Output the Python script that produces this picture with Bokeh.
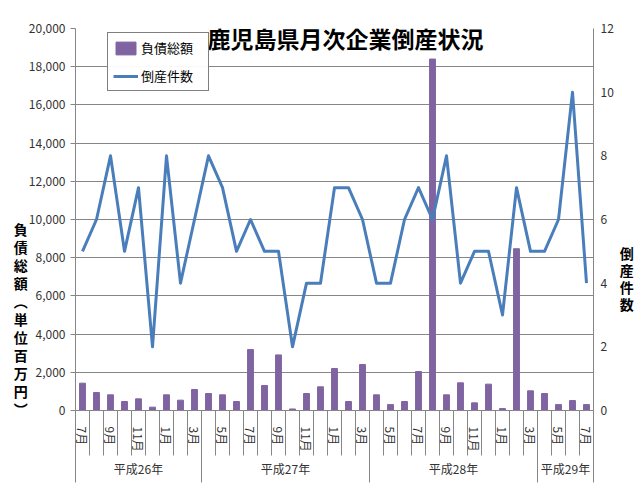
from bokeh.plotting import figure
from bokeh.models import (Range1d, LinearAxis, FixedTicker, NumeralTickFormatter,
                          Grid, Label, ColumnDataSource)
from bokeh.embed import file_html
from bokeh.resources import INLINE

# ---------------- data ----------------
months = ["7月", "8月", "9月", "10月", "11月", "12月", "1月", "2月", "3月",
          "4月", "5月", "6月", "7月", "8月", "9月", "10月", "11月", "12月", "1月", "2月", "3月",
          "4月", "5月", "6月", "7月", "8月", "9月", "10月", "11月", "12月", "1月", "2月", "3月",
          "4月", "5月", "6月", "7月"]
groups = ["平成26年", "平成27年", "平成28年", "平成29年"]
group_sizes = [9, 12, 12, 4]
debt = [1430, 940, 820, 470, 610, 175, 820, 540, 1100,
        890, 820, 470, 3190, 1310, 2910, 80, 890, 1240, 2200, 470, 2410,
        820, 310, 470, 2040, 18400, 820, 1450, 400, 1380, 100, 8470, 1030,
        890, 310, 520, 310]
counts = [5, 6, 8, 5, 7, 2, 8, 4, 6,
          8, 7, 5, 6, 5, 5, 2, 4, 4, 7, 7, 6,
          4, 4, 6, 7, 6, 8, 4, 5, 5, 3, 7, 5,
          5, 6, 10, 4]
left_ticks = [0, 2000, 4000, 6000, 8000, 10000, 12000, 14000, 16000, 18000, 20000]
right_ticks = [0, 2, 4, 6, 8, 10, 12]
title_text = "鹿児島県月次企業倒産状況"
series_names = ["負債総額", "倒産件数"]
left_title = "負債総額︵単位百万円︶"
right_title = "倒産件数"

# ---------------- layout ----------------
W, H = 636, 485
L, R, T, B = 75, 598, 28, 410
N = len(months)
YMAX = 20000
Y2MAX = 12

FONT = "Noto Sans CJK JP"
GRID = "#868686"
TXT = "#333333"
BAR = "#8064A2"
LINE = "#4A7EBB"

HAS_ORIENT = "axis_label_orientation" in LinearAxis.properties()


def xd(px):
    return -0.5 + (px - L) / (R - L) * N


def yd(py):
    return (B - py) / (B - T) * YMAX


src = ColumnDataSource(dict(x=list(range(N)), debt=debt, counts=counts))

p = figure(width=W, height=H, x_range=Range1d(-0.5, N - 0.5), y_range=Range1d(0, YMAX),
           x_axis_type=None, y_axis_type=None, toolbar_location=None,
           output_backend="svg", min_border_left=L, min_border_right=W - R,
           min_border_top=T, min_border_bottom=H - B)
p.extra_y_ranges = {"right": Range1d(0, Y2MAX)}
p.outline_line_color = None
p.background_fill_color = "white"
p.border_fill_color = "white"

# left axis
lt = FixedTicker(ticks=left_ticks, minor_ticks=[])
yl = LinearAxis(ticker=lt, formatter=NumeralTickFormatter(format="0,0"),
                major_tick_out=5, major_tick_in=0, minor_tick_out=0, minor_tick_in=0,
                axis_line_color=GRID, major_tick_line_color=GRID,
                major_label_standoff=5, major_label_text_font=FONT,
                major_label_text_font_size="12px", major_label_text_color=TXT,
                axis_label="\n" * 11 + "\n".join(left_title), axis_label_standoff=-2,
                axis_label_text_font=FONT, axis_label_text_font_size="14px",
                axis_label_text_font_style="bold", axis_label_text_color="black",
                axis_label_text_line_height=0.9)
if HAS_ORIENT:
    yl.axis_label_orientation = "horizontal"
p.add_layout(yl, "left")
p.add_layout(Grid(dimension=1, ticker=lt, grid_line_color=GRID), "center")

# right axis
yr = LinearAxis(y_range_name="right", ticker=FixedTicker(ticks=right_ticks, minor_ticks=[]),
                major_tick_out=0, major_tick_in=0, minor_tick_out=0, minor_tick_in=0,
                axis_line_color=GRID, major_label_standoff=7, major_label_text_font=FONT,
                major_label_text_font_size="12px", major_label_text_color=TXT,
                axis_label="\n" * 7 + "\n".join(right_title), axis_label_standoff=3,
                axis_label_text_font=FONT, axis_label_text_font_size="14px",
                axis_label_text_font_style="bold", axis_label_text_color="black",
                axis_label_text_line_height=0.84)
if HAS_ORIENT:
    yr.axis_label_orientation = "horizontal"
p.add_layout(yr, "right")

# month axis (labels every other month, separators between every month)
tick_idx = list(range(0, N, 2))
bounds = [i - 0.5 for i in range(N + 1)]
SEP1 = 45
xa = LinearAxis(ticker=FixedTicker(ticks=tick_idx, minor_ticks=bounds),
                major_label_overrides={i: months[i] for i in tick_idx},
                major_label_orientation="vertical",
                major_tick_out=0, major_tick_in=0, minor_tick_out=SEP1, minor_tick_in=0,
                minor_tick_line_color=GRID, axis_line_color=GRID,
                major_label_standoff=16 - SEP1, major_label_text_font=FONT,
                major_label_text_font_size="12px", major_label_text_color=TXT)
p.add_layout(xa, "below")

# fiscal year group axis
g_bounds = [-0.5]
g_centers = []
for s in group_sizes:
    start = g_bounds[-1]
    g_bounds.append(start + s)
    g_centers.append(start + s / 2.0)
SEP2 = 28
xg = LinearAxis(ticker=FixedTicker(ticks=g_centers, minor_ticks=g_bounds),
                major_label_overrides={c: g for c, g in zip(g_centers, groups)},
                major_label_orientation="horizontal",
                major_tick_out=0, major_tick_in=0, minor_tick_out=SEP2, minor_tick_in=0,
                minor_tick_line_color=GRID, axis_line_color=None,
                major_label_standoff=5 - SEP2, major_label_text_font=FONT,
                major_label_text_font_size="12px", major_label_text_color=TXT)
p.add_layout(xg, "below")

# data
p.vbar(x="x", top="debt", width=0.42, source=src, fill_color=BAR, line_color=BAR,
       legend_label=series_names[0])
p.line(x="x", y="counts", source=src, y_range_name="right", line_color=LINE,
       line_width=3, line_join="round", legend_label=series_names[1])

# legend
lg = p.legend[0]
lg.location = (32, B - 91)
lg.margin = 0
lg.padding = 5
lg.spacing = 9
lg.glyph_height = 16
lg.label_height = 16
lg.glyph_width = 25
lg.label_standoff = 3
lg.label_width = 62
lg.border_line_color = "black"
lg.border_line_width = 1
lg.label_text_font = FONT
lg.label_text_font_size = "13px"
lg.label_text_color = "black"

# title
p.add_layout(Label(x=xd(347.5), y=yd(37), text=title_text, text_align="center",
                   text_baseline="middle", text_font=FONT, text_font_size="23px",
                   text_font_style="bold", text_color="black",
                   background_fill_color="white", padding=3))

open("out.html", "w").write(file_html(p, INLINE))
